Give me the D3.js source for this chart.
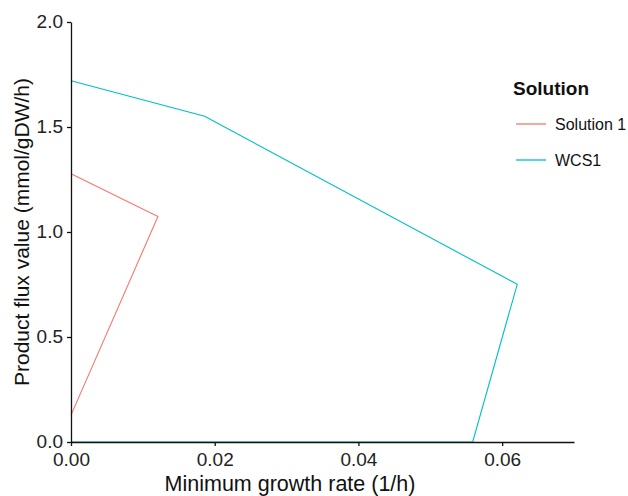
<!DOCTYPE html>
<html>
<head>
<meta charset="utf-8">
<script src="https://cdn.jsdelivr.net/npm/d3@7"></script>
<style>
  body { margin: 0; background: #fff; }
  text { font-family: "Liberation Sans", Arial, sans-serif; }
</style>
</head>
<body>
<svg id="chart" width="628" height="496"></svg>
<script>
// data
var solution1 = [[0, 0.128], [0.0121, 1.074], [0, 1.277]];
var wcs1 = [[0, 1.72], [0.0186, 1.551], [0.0621, 0.751], [0.0559, 0], [0, 0]];
var seriesNames = ["Solution 1", "WCS1"];
var seriesColors = ["#F8766D", "#00BFC4"];
var xTicks = [0, 0.02, 0.04, 0.06];
var yTicks = [0, 0.5, 1.0, 1.5, 2.0];

var svg = d3.select("#chart");
var x = d3.scaleLinear().domain([0, 0.07]).range([71, 574]);
var y = d3.scaleLinear().domain([0, 2]).range([442, 22]);

var line = d3.line().x(d => x(d[0])).y(d => y(d[1]));

[solution1, wcs1].forEach(function(s, i) {
  svg.append("path")
    .attr("d", line(s))
    .attr("fill", "none")
    .attr("stroke", seriesColors[i])
    .attr("stroke-width", 1.1);
});

var xAxis = svg.append("g")
  .attr("transform", "translate(0,442)")
  .call(d3.axisBottom(x).tickValues(xTicks).tickFormat(d3.format(".2f")).tickSize(4).tickSizeOuter(0));
var yAxis = svg.append("g")
  .attr("transform", "translate(71,0)")
  .call(d3.axisLeft(y).tickValues(yTicks).tickFormat(d3.format(".1f")).tickSize(4).tickSizeOuter(0));

[xAxis, yAxis].forEach(function(a) {
  a.select(".domain").attr("stroke", "#111").attr("stroke-width", 1.3);
  a.selectAll(".tick line").attr("stroke", "#111").attr("stroke-width", 1.3);
  a.selectAll(".tick text").attr("fill", "#222").style("font-size", "19px")
    .style("font-family", "'Liberation Sans', Arial, sans-serif");
});
xAxis.selectAll(".tick text").attr("dy", "0.71em").attr("y", 11);
yAxis.selectAll(".tick text").attr("x", -8).attr("dy", "0.3em");

svg.append("text")
  .attr("x", 290).attr("y", 491)
  .attr("text-anchor", "middle")
  .style("font-size", "21.5px").attr("fill", "#111")
  .text("Minimum growth rate (1/h)");

svg.append("text")
  .attr("transform", "translate(29,232) rotate(-90)")
  .attr("text-anchor", "middle")
  .style("font-size", "21px").attr("fill", "#111")
  .text("Product flux value (mmol/gDW/h)");

// legend
var legend = svg.append("g").attr("transform", "translate(513,0)");
legend.append("text").attr("x", 0).attr("y", 95)
  .style("font-size", "19px").style("font-weight", "bold").attr("fill", "#111")
  .text("Solution");
seriesNames.forEach(function(n, i) {
  var ly = 124 + i * 36;
  legend.append("line").attr("x1", 3).attr("x2", 33).attr("y1", ly).attr("y2", ly)
    .attr("stroke", seriesColors[i]).attr("stroke-width", 1.3);
  legend.append("text").attr("x", 42).attr("y", ly + 6)
    .style("font-size", "16px").attr("fill", "#111").text(n);
});
</script>
</body>
</html>
